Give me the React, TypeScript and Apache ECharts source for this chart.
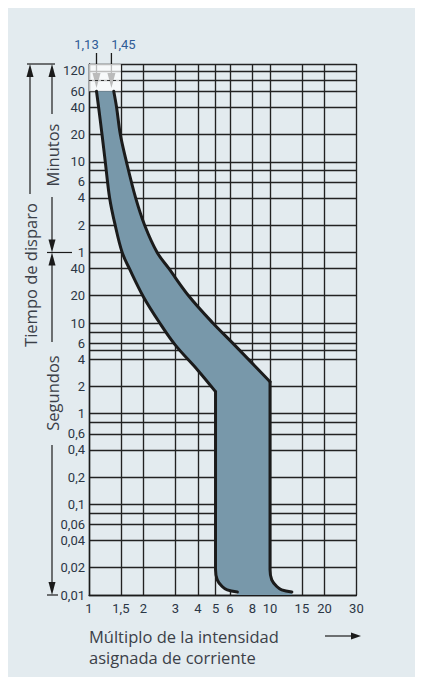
import React, { useEffect, useRef } from 'react';
import * as echarts from 'echarts';

// x axis: multiple of rated current
const X_TICKS = [1, 1.5, 2, 3, 4, 5, 6, 8, 10, 15, 20, 30];
// y axis: grid lines in minutes (upper part) and seconds (lower part)
const MINUTE_GRID = [120, 100, 80, 60, 40, 20, 10, 8, 6, 4, 2, 1];
const SECOND_GRID = [40, 20, 10, 8, 6, 5, 4, 2, 1, 0.8, 0.6, 0.4, 0.2, 0.1, 0.08, 0.06, 0.04, 0.02, 0.01];
const MINUTE_LABELS = [120, 60, 40, 20, 10, 6, 4, 2, 1];
const SECOND_LABELS = [40, 20, 10, 6, 4, 2, 1, 0.6, 0.4, 0.2, 0.1, 0.06, 0.04, 0.02, 0.01];

// lower limit (left) curve: multiple of rated current / trip time in seconds
const LEFT_X = [1.1, 1.13, 1.18, 1.23, 1.3, 1.395, 1.525, 1.67, 2, 2.46, 3, 4, 5];
const LEFT_T = [3600, 2400, 1200, 600, 240, 120, 60, 40, 19.4, 10, 5.7, 3, 1.75];
const LEFT_BEND_X = [5, 5, 5.11, 5.44, 5.8, 6.6];
const LEFT_BEND_T = [1.75, 0.019, 0.0147, 0.0124, 0.0114, 0.0108];
// upper limit (right) curve
const RIGHT_X = [1.37, 1.42, 1.49, 1.61, 1.81, 2.03, 2.38, 2.76, 3.55, 4.83, 6.22, 7.58, 10];
const RIGHT_T = [3600, 2400, 1200, 600, 240, 120, 60, 40, 20, 10, 6, 4, 2.25];
const RIGHT_BEND_X = [10, 10, 10.22, 10.9, 11.6, 13.2];
const RIGHT_BEND_T = [2.25, 0.019, 0.0147, 0.0124, 0.0114, 0.0108];

const ARROW_X = [1.1, 1.33];
const ARROW_LABELS = ['1,13', '1,45'];

const INK = '#1b1b1b';
const GRID_COLOR = '#222';
const TICK_COLOR = '#2b3645';
const NAME_COLOR = '#3b4048';
const BAND_COLOR = '#7898aa';
const NAME_FONT = '16.5px "Open Sans"';

const pts = (xs: number[], ts: number[]) => xs.map((x, i) => [x, ts[i]]);

export default function App() {
  const ref = useRef<HTMLDivElement>(null);
  useEffect(() => {
    const el = ref.current!;
    const chart = echarts.init(el, null, { renderer: 'svg' });
    const gridVals = [...MINUTE_GRID.map((m) => m * 60), ...SECOND_GRID];
    const labelVals = [...MINUTE_LABELS.map((m) => m * 60), ...SECOND_LABELS];
    const fmtY = (v: number) => {
      const val = Number(Number(v).toPrecision(6));
      if (val >= 60) {
        const m = Math.round(val / 60);
        return m === 120 ? '{t|120}' : String(m);
      }
      return String(val).replace('.', ',');
    };
    const fmtX = (v: number) => String(Number(Number(v).toPrecision(6))).replace('.', ',');
    const lineSeries = (data: number[][]) => ({
      type: 'line',
      data,
      smooth: 0.35,
      symbol: 'none',
      silent: true,
      z: 4,
      lineStyle: { color: INK, width: 3, cap: 'round', join: 'round' },
    });
    const option: any = {
      animation: false,
      backgroundColor: 'transparent',
      grid: { left: 81, top: 56, width: 267.4, height: 531 },
      xAxis: {
        type: 'log',
        logBase: 10,
        min: 1,
        max: 30,
        axisLine: { show: true, lineStyle: { color: INK, width: 1.4 } },
        axisTick: { show: false, customValues: X_TICKS },
        splitLine: { show: true, lineStyle: { color: GRID_COLOR, width: 1.35 } },
        minorTick: { show: false },
        minorSplitLine: { show: false },
        axisLabel: {
          customValues: X_TICKS,
          formatter: fmtX,
          margin: 7,
          color: TICK_COLOR,
          fontSize: 13,
          fontFamily: 'Roboto',
        },
      },
      yAxis: {
        type: 'log',
        logBase: 10,
        min: 0.01,
        max: 7200,
        axisLine: { show: true, lineStyle: { color: INK, width: 1.4 } },
        axisTick: { show: false, customValues: gridVals },
        splitLine: { show: true, lineStyle: { color: GRID_COLOR, width: 1.35 } },
        minorTick: { show: false },
        minorSplitLine: { show: false },
        axisLabel: {
          customValues: labelVals,
          formatter: fmtY,
          margin: 4,
          color: TICK_COLOR,
          fontSize: 13,
          fontFamily: 'Roboto',
          rich: {
            t: { color: TICK_COLOR, fontSize: 13, fontFamily: 'Roboto', padding: [12, 0, 0, 0] },
          },
        },
      },
      series: [
        {
          type: 'custom',
          silent: true,
          z: 3,
          data: [[LEFT_X[0], LEFT_T[0]]],
          renderItem: (params: any, api: any) => {
            const poly: number[][] = [
              ...pts(LEFT_X, LEFT_T),
              ...pts(LEFT_BEND_X, LEFT_BEND_T),
              [LEFT_BEND_X[LEFT_BEND_X.length - 1], 0.01],
              [RIGHT_BEND_X[RIGHT_BEND_X.length - 1], 0.01],
              ...pts(RIGHT_BEND_X, RIGHT_BEND_T).reverse(),
              ...pts(RIGHT_X, RIGHT_T).reverse(),
            ];
            return {
              type: 'polygon',
              shape: { points: poly.map((p) => api.coord(p)), smooth: 0 },
              style: { fill: BAND_COLOR },
            };
          },
          markArea: {
            silent: true,
            itemStyle: { color: 'rgba(255,255,255,0.7)' },
            data: [[{ coord: [1, 3600] }, { coord: [1.5, 7200] }]],
          },
          markLine: {
            silent: true,
            symbol: 'none',
            label: { show: false },
            lineStyle: { color: '#333', width: 1, type: [3, 3] },
            data: [[{ coord: [1, 4800] }, { coord: [1.5, 4800] }]],
          },
        },
        lineSeries(pts(LEFT_X, LEFT_T)),
        lineSeries(pts(LEFT_BEND_X, LEFT_BEND_T)),
        lineSeries(pts(RIGHT_X, RIGHT_T)),
        lineSeries(pts(RIGHT_BEND_X, RIGHT_BEND_T)),
      ],
    };
    chart.setOption(option);

    const px = (x: number, t: number) => chart.convertToPixel({ gridIndex: 0 }, [x, t]) as number[];
    const yTop = px(1, 7200)[1];
    const yBottom = px(1, 0.01)[1];
    const yMin = px(1, 60)[1];
    const line = (x1: number, y1: number, x2: number, y2: number, w = 1.2) => ({
      type: 'line',
      silent: true,
      shape: { x1, y1, x2, y2 },
      style: { stroke: INK, lineWidth: w },
    });
    const triV = (x: number, tipY: number, dir: number, hw = 3.5, h = 13) => ({
      type: 'polygon',
      silent: true,
      shape: { points: [[x - hw, tipY - dir * h], [x + hw, tipY - dir * h], [x, tipY]] },
      style: { fill: INK },
    });
    const text = (t: string, x: number, y: number, opts: any = {}) => ({
      type: 'text',
      silent: true,
      x,
      y,
      rotation: opts.rotation || 0,
      style: {
        text: t,
        fill: opts.color || NAME_COLOR,
        font: opts.font || NAME_FONT,
        align: opts.align || 'center',
        textAlign: opts.align || 'center',
        verticalAlign: 'middle',
        textVerticalAlign: 'middle',
      },
    });
    const xA = 22;
    const xB = 44;
    const g: any[] = [];
    // 1,13 / 1,45 arrows
    ARROW_X.forEach((v, i) => {
      const ax = px(v, 3600)[0];
      g.push(line(ax, 45, ax, 70, 1.3));
      g.push(triV(ax, 80, 1, 4, 15));
      g.push(
        text(ARROW_LABELS[i], ax + (i === 0 ? -10 : 12), 36, {
          font: '13px Roboto',
          color: '#2f5b96',
        })
      );
    });
    // left annotations
    g.push(line(19, yTop, 47, yTop));
    g.push(triV(xA, yTop, -1), line(xA, yTop + 10, xA, 186));
    g.push(text('Tiempo de disparo', xA, 267, { rotation: Math.PI / 2 }));
    g.push(triV(xB, yTop, -1), line(xB, yTop + 10, xB, 106));
    g.push(text('Minutos', xB, 147, { rotation: Math.PI / 2 }));
    g.push(line(xB, 189, xB, yMin - 10), triV(xB, yMin, 1));
    g.push(line(39, yMin, 64, yMin));
    g.push(triV(xB, yMin, -1), line(xB, yMin + 10, xB, 334));
    g.push(text('Segundos', xB, 385, { rotation: Math.PI / 2 }));
    g.push(line(xB, 437, xB, yBottom - 10), triV(xB, yBottom, 1));
    g.push(line(39, yBottom, 50, yBottom));
    // x axis name and arrow
    g.push(text('Múltiplo de la intensidad', 81, 628.5, { align: 'left' }));
    g.push(text('asignada de corriente', 81, 649.5, { align: 'left' }));
    g.push(line(317, 628, 346, 628));
    g.push({
      type: 'polygon',
      silent: true,
      shape: { points: [[343, 624.5], [343, 631.5], [353, 628]] },
      style: { fill: INK },
    });
    chart.setOption({ graphic: { elements: g } });

    return () => chart.dispose();
  }, []);
  return <div ref={ref} style={{ width: 414, height: 669, background: '#e3ebef' }} />;
}
